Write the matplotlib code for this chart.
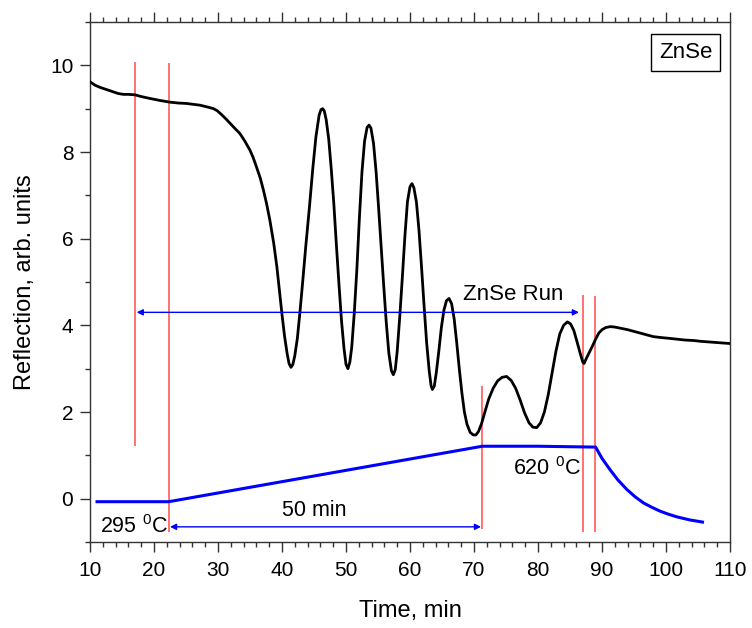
import numpy as np
import matplotlib
matplotlib.use("Agg")
import matplotlib.pyplot as plt
from matplotlib.ticker import MultipleLocator

plt.rcParams['font.family'] = ['Liberation Sans', 'DejaVu Sans']
plt.rcParams['mathtext.default'] = 'regular'

# reflection signal (black)
time_refl = [10.0, 10.8, 11.6, 12.6, 13.6, 14.4, 15.2, 16.0, 17.0, 18.0, 18.9, 19.9,
             20.9, 22.5, 23.8, 25.1, 26.2, 27.2, 28.3, 29.3, 29.9, 30.5, 31.2, 31.9,
             32.6, 33.4, 34.2, 35.0, 35.5, 36.0, 36.6, 37.1, 37.6, 38.1, 38.7, 39.2,
             39.6, 40.0, 40.4, 40.8, 41.1, 41.4, 41.7, 42.0, 42.4, 42.8, 43.2, 43.7,
             44.3, 44.8, 45.3, 45.8, 46.1, 46.35, 46.6, 46.9, 47.3, 47.7, 48.1, 48.5,
             48.9, 49.3, 49.7, 50.0, 50.3, 50.6, 50.9, 51.3, 51.7, 52.1, 52.5, 52.9,
             53.3, 53.6, 53.9, 54.3, 54.7, 55.1, 55.5, 55.9, 56.3, 56.7, 57.1, 57.4,
             57.7, 58.0, 58.4, 58.8, 59.2, 59.6, 60.0, 60.3, 60.6, 61.0, 61.4, 61.8,
             62.2, 62.6, 63.0, 63.3, 63.5, 63.8, 64.1, 64.5, 64.9, 65.3, 65.7, 66.1,
             66.5, 66.9, 67.3, 67.7, 68.1, 68.5, 68.9, 69.4, 69.9, 70.3, 70.7, 71.2,
             71.7, 72.3, 73.0, 73.7, 74.4, 75.1, 75.8, 76.5, 77.2, 77.9, 78.6, 79.2,
             79.8, 80.4, 81.0, 81.6, 82.2, 82.8, 83.4, 84.0, 84.6, 85.1, 85.6, 86.1,
             86.6, 87.0, 87.2, 87.5, 88.0, 88.5, 89.0, 89.5, 90.0, 90.6, 91.3, 92.0,
             93.0, 94.0, 95.0, 96.0, 97.0, 98.0, 99.1, 100.5, 101.7, 103.0, 104.3, 105.5,
             106.4, 108.0, 109.0, 110.0]
reflection = [9.62, 9.54, 9.49, 9.44, 9.39, 9.35, 9.33, 9.33, 9.32, 9.28, 9.25, 9.22,
              9.19, 9.15, 9.13, 9.12, 9.10, 9.08, 9.04, 9.00, 8.95, 8.87, 8.77, 8.66,
              8.55, 8.43, 8.25, 8.04, 7.87, 7.66, 7.40, 7.12, 6.80, 6.43, 5.90, 5.35,
              4.80, 4.25, 3.75, 3.35, 3.12, 3.03, 3.10, 3.30, 3.70, 4.30, 4.95, 5.80,
              6.75, 7.60, 8.35, 8.85, 8.98, 9.00, 8.95, 8.75, 8.30, 7.60, 6.80, 5.85,
              4.95, 4.10, 3.45, 3.10, 3.00, 3.15, 3.50, 4.30, 5.30, 6.50, 7.55, 8.25,
              8.57, 8.62, 8.55, 8.20, 7.55, 6.70, 5.80, 4.90, 4.05, 3.35, 2.95, 2.86,
              2.98, 3.40, 4.20, 5.10, 6.05, 6.85, 7.20, 7.27, 7.18, 6.85, 6.20, 5.35,
              4.45, 3.60, 2.95, 2.60, 2.52, 2.60, 2.90, 3.40, 3.95, 4.35, 4.57, 4.62,
              4.50, 4.15, 3.60, 3.00, 2.45, 2.00, 1.72, 1.53, 1.47, 1.47, 1.55, 1.74,
              2.00, 2.30, 2.55, 2.72, 2.80, 2.82, 2.73, 2.55, 2.28, 1.98, 1.75, 1.65,
              1.64, 1.75, 2.00, 2.40, 2.90, 3.40, 3.80, 4.00, 4.08, 4.03, 3.88, 3.62,
              3.35, 3.15, 3.12, 3.22, 3.37, 3.52, 3.68, 3.82, 3.90, 3.95, 3.97, 3.96,
              3.93, 3.90, 3.86, 3.82, 3.78, 3.74, 3.72, 3.70, 3.68, 3.66, 3.65, 3.63,
              3.62, 3.60, 3.59, 3.58]

# temperature profile (blue, scaled)
time_temp = [11.1, 22.3, 71.3, 80.0, 89.0, 90.0, 91.25, 92.5, 93.9, 95.2, 96.5,
             97.8, 99.1, 100.4, 101.7, 103.7, 105.7]
temp = [-0.07, -0.07, 1.21, 1.21, 1.19, 0.93, 0.67, 0.43, 0.21, 0.04, -0.10,
        -0.20, -0.29, -0.36, -0.42, -0.49, -0.54]

# red markers
mark_x = [17.0, 22.3, 71.2, 87.05, 88.95]
mark_lo = [1.22, -0.76, -0.71, -0.78, -0.76]
mark_hi = [10.07, 10.05, 2.60, 4.70, 4.68]

fig = plt.figure(figsize=(7.52, 6.28), dpi=100)
ax = fig.add_axes([90/752, 1-542/628, 640/752, 520/628])

ax.vlines(mark_x, mark_lo, mark_hi, colors='#ff4a4a', lw=1.1, zorder=1)
ax.plot(time_refl, reflection, color='black', lw=2.0, zorder=3)
ax.plot(time_temp, temp, color='#0000ff', lw=2.2, zorder=2)

arrow = dict(arrowstyle='<|-|>', color='#0000ff', lw=1.0, mutation_scale=9,
             shrinkA=0, shrinkB=0)
ax.annotate('', xy=(86.4, 4.3), xytext=(17.3, 4.3), arrowprops=arrow)
ax.annotate('', xy=(71.1, -0.65), xytext=(22.5, -0.65), arrowprops=arrow)

ax.text(76.1, 4.58, 'ZnSe Run', fontsize=16, ha='center', va='baseline')
ax.text(76.1, 0.55, '620 $^0$C', fontsize=15.5, ha='left', va='baseline')
ax.text(11.5, -0.8, '295 $^0$C', fontsize=15.5, ha='left', va='baseline')
ax.text(45.1, -0.41, '50 min', fontsize=15.5, ha='center', va='baseline')
ax.text(103.1, 10.3, 'ZnSe', fontsize=16, ha='center', va='center',
        bbox=dict(boxstyle='square,pad=0.35', fc='white', ec='black', lw=1.0))

ax.set_xlim(10, 110)
ax.set_ylim(-1, 11)
ax.xaxis.set_major_locator(MultipleLocator(10))
ax.xaxis.set_minor_locator(MultipleLocator(2))
ax.yaxis.set_major_locator(MultipleLocator(2))
ax.yaxis.set_minor_locator(MultipleLocator(1))
ax.tick_params(which='both', direction='out', top=True, right=False,
               labeltop=False, color='#333333', width=1.0)
ax.tick_params(which='major', length=7, labelsize=15)
ax.tick_params(which='minor', length=3.5)
ax.tick_params(axis='x', pad=7)
ax.tick_params(axis='y', pad=5)
for s in ax.spines.values():
    s.set_color('#333333')
    s.set_linewidth(1.0)

ax.set_xlabel('Time, min', fontsize=17, labelpad=14)
ax.set_ylabel('Reflection, arb. units', fontsize=17, labelpad=10)

fig.savefig('out.png', dpi=100)
